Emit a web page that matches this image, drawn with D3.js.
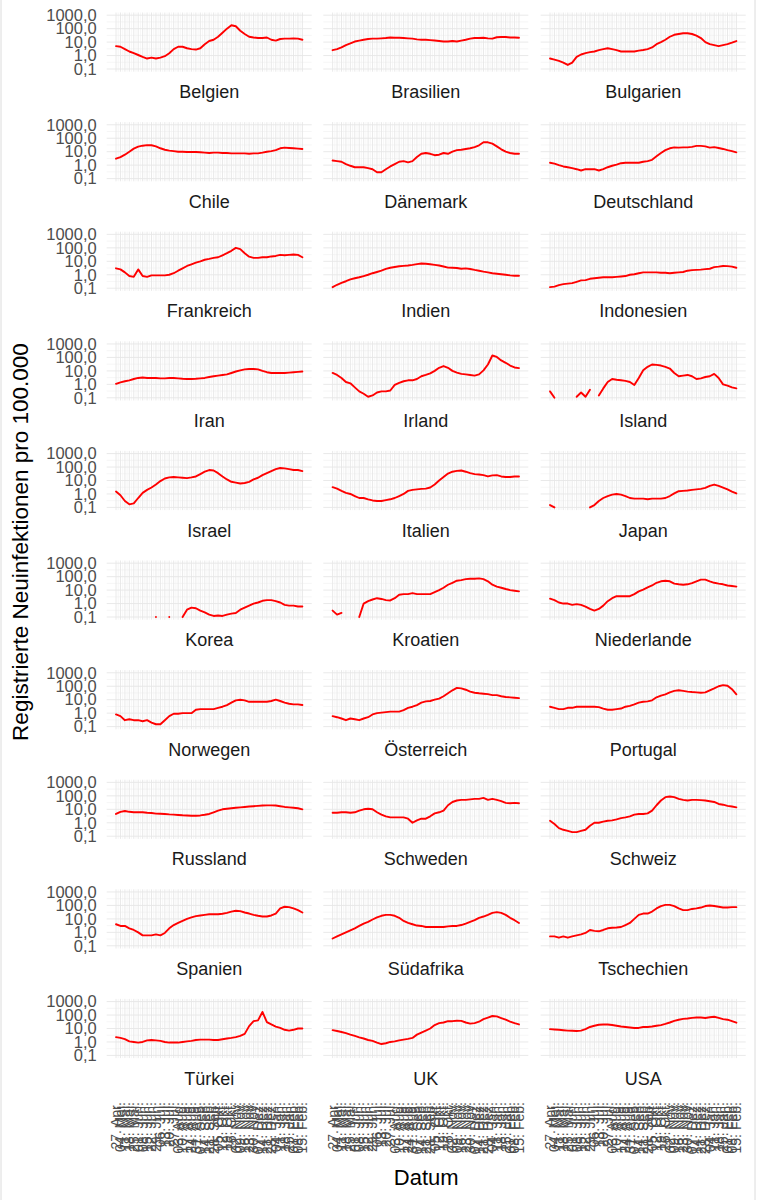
<!DOCTYPE html>
<html>
<head>
<meta charset="utf-8">
<script src="https://cdn.jsdelivr.net/npm/d3@7"></script>
<style>
  body { margin: 0; background: #fff; }
  text { font-family: "Liberation Sans", Arial, sans-serif; }
</style>
</head>
<body>
<script>
// weekly dates and their axis labels
const weekDates = ["2020-04-27","2020-05-04","2020-05-11","2020-05-18","2020-05-25","2020-06-01","2020-06-08","2020-06-15","2020-06-22","2020-06-29",
  "2020-07-06","2020-07-13","2020-07-20","2020-07-27","2020-08-03","2020-08-10","2020-08-17","2020-08-24","2020-08-31","2020-09-07",
  "2020-09-14","2020-09-21","2020-09-28","2020-10-05","2020-10-12","2020-10-19","2020-10-26","2020-11-02","2020-11-09","2020-11-16",
  "2020-11-23","2020-11-30","2020-12-07","2020-12-14","2020-12-21","2020-12-28","2021-01-04","2021-01-11","2021-01-18","2021-01-25",
  "2021-02-01","2021-02-08","2021-02-15"];
const tickLabels = ["27. Apr.","04. Mai.","11. Mai.","18. Mai.","25. Mai.","01. Jun.","08. Jun.","15. Jun.","22. Jun.","29. Jun.",
  "06. Jul.","13. Jul.","20. Jul.","27. Jul.","03. Aug.","10. Aug.","17. Aug.","24. Aug.","31. Aug.","07. Sep.",
  "14. Sep.","21. Sep.","28. Sep.","05. Okt.","12. Okt.","19. Okt.","26. Okt.","02. Nov.","09. Nov.","16. Nov.",
  "23. Nov.","30. Nov.","07. Dez.","14. Dez.","21. Dez.","28. Dez.","04. Jan.","11. Jan.","18. Jan.","25. Jan.",
  "01. Feb.","08. Feb.","15. Feb."];

const yTicks = [0.1, 1, 10, 100, 1000];
const yTickLabels = ["0,1", "1,0", "10,0", "100,0", "1000,0"];

const countries = ["Belgien","Brasilien","Bulgarien","Chile","Dänemark","Deutschland","Frankreich","Indien","Indonesien",
  "Iran","Irland","Island","Israel","Italien","Japan","Korea","Kroatien","Niederlande","Norwegen","Österreich","Portugal",
  "Russland","Schweden","Schweiz","Spanien","Südafrika","Tschechien","Türkei","UK","USA"];

// new infections per 100.000, one value per week (null = below 0,1)
const belgien = [5,4.5,3,2,1.5,1.1,0.8,0.6,0.7,0.6, 0.7,0.9,1.5,3,4.5,4.5,3.5,3,2.8,3.5, 7,12,15,25,50,100,180,150,70,40, 25,22,20,20,22,15,13,17,18,18, 19,18,15];
const brasilien = [2.5,3,4,6,8,11,13,15,17,18, 18,19,20,22,21,21,20,19,18,16, 15,15,14,13,12,11,11,12,11,13, 15,18,20,20,21,19,18,23,24,24, 22,22,21];
const bulgarien = [0.6,0.5,0.4,0.3,0.2,0.3,0.8,1.2,1.5,1.8, 2,2.5,3,3.5,3,2.5,2,2,2,2, 2.3,2.6,3,4,7,10,15,25,35,40, 45,45,40,30,20,10,7,6,5,6, 7,9,12];
const chile = [3,4,6,10,17,24,28,31,30,25, 18,14,12,11,10,10,9.5,9.5,9.5,9, 8.5,8,8.5,8.5,8,8,7.5,7.5,7.5,7.5, 7,7.5,7.5,8.5,10,11,13,18,20,19, 18,17,16];
const daenemark = [2.2,2,1.8,1.2,0.9,0.7,0.7,0.7,0.6,0.5, 0.3,0.3,0.5,0.8,1.2,1.8,2,1.6,2,4, 7,8,7,5.5,6,8,7,10,13,14, 16,18,22,30,50,50,40,25,15,10, 8,7,7];
const deutschland = [1.5,1.3,1,0.8,0.7,0.6,0.5,0.4,0.5,0.5, 0.5,0.4,0.5,0.7,0.9,1.1,1.4,1.5,1.5,1.5, 1.5,1.8,2,2.5,4.5,8,13,18,21,20, 21,21,23,27,27,25,20,22,19,16, 13,11,9];
const frankreich = [3,2.5,1.5,0.8,0.7,2.5,0.8,0.7,0.9,0.9, 0.9,0.9,1,1.3,2,3,4.5,6,8,10, 13,15,18,20,28,40,60,100,80,40, 22,18,18,20,20,23,25,30,28,30, 32,30,20];
const indien = [0.12,0.18,0.25,0.33,0.45,0.55,0.65,0.8,1,1.3, 1.6,2,2.7,3.3,3.8,4.3,4.6,4.9,5.4,6.2, 6.8,6.6,6,5.4,4.9,4.1,3.4,3.3,3.2,2.8, 3,2.7,2.3,2,1.7,1.5,1.3,1.2,1.1,1, 0.9,0.85,0.85];
const indonesien = [0.12,0.13,0.17,0.2,0.22,0.24,0.3,0.38,0.4,0.5, 0.55,0.6,0.65,0.65,0.65,0.7,0.75,0.8,1,1.1, 1.3,1.5,1.5,1.5,1.5,1.4,1.4,1.3,1.4,1.5, 1.6,2,2.2,2.3,2.4,2.6,2.8,3.7,4,4.5, 4.4,4,3.3];
const iran = [1.1,1.4,1.7,2,2.5,3,3.2,3,3,3, 2.8,2.8,3,3,2.8,2.6,2.5,2.5,2.6,2.8, 3,3.5,4,4.5,5,5.5,7,9,11,13, 14,14,13,10,8,7,7,7,7,7.5, 8,8.5,9];
const irland = [7,5,3,1.5,1.2,0.6,0.3,0.2,0.12,0.15, 0.25,0.3,0.3,0.35,0.9,1.3,1.7,2,2,2.5, 4,5,6.5,10,17,23,17,10,7.5,6, 5.5,5,4.5,5.5,11,30,140,110,60,40, 25,18,16];
const island = [0.3,0.1,null,null,null,null,0.12,0.25,0.12,0.4, null,0.15,0.5,1.5,2.5,2.2,2,1.8,1.5,0.9, 3,11,20,30,28,25,20,15,7,4, 4.5,5,4,2.5,2.8,3.5,4,6,3,1, 0.8,0.6,0.5];
const israel = [1.5,0.8,0.3,0.17,0.2,0.5,1.2,2,3,5, 9,14,17,18,17,16,15,17,20,30, 45,60,55,35,20,12,8,7,6,6.5, 8,12,16,25,35,50,70,85,80,70, 60,60,50];
const italien = [3.2,2.5,1.7,1.2,1,0.7,0.5,0.5,0.4,0.33, 0.3,0.3,0.35,0.4,0.5,0.7,1,1.7,2,2.2, 2.4,2.5,3,5,10,18,33,45,52,55, 45,35,30,28,25,20,24,25,20,18, 18,20,20];
const japan = [0.15,0.1,null,null,null,null,null,null,null,0.1, 0.15,0.3,0.5,0.7,0.9,1,0.9,0.7,0.5,0.45, 0.45,0.45,0.4,0.45,0.45,0.45,0.5,0.7,1.1,1.6, 1.7,1.8,2,2.2,2.4,2.8,4,5,4,3, 2.2,1.5,1.1];
const korea = [null,null,null,null,null,null,null,null,null,0.1, null,null,0.1,null,null,0.1,0.35,0.5,0.45,0.3, 0.22,0.15,0.12,0.13,0.12,0.15,0.18,0.2,0.35,0.5, 0.7,1,1.2,1.6,1.8,1.8,1.5,1.2,0.8,0.7, 0.7,0.6,0.6];
const kroatien = [0.3,0.15,0.2,null,null,null,0.1,1,1.5,2, 2.5,2.2,1.8,1.7,2.5,4.5,5,5,6,5, 5,5,5,7,10,15,25,35,50,55, 65,70,70,75,65,45,25,18,15,12, 10,9,8];
const niederlande = [2.3,1.8,1.2,1,1,0.8,0.9,0.8,0.6,0.4, 0.3,0.4,0.7,1.5,2.5,3.5,3.5,3.5,3.5,5, 8,11,16,22,35,45,50,45,30,27, 25,27,33,45,60,60,45,35,30,27, 22,20,18];
const norwegen = [0.8,0.6,0.3,0.35,0.3,0.3,0.25,0.3,0.2,0.15, 0.15,0.3,0.6,0.9,0.9,1,1,1,1.8,2, 2,2,2,2.5,3,4,6,9,10,9, 7,7,7,7,7,8,10,8,6,5, 4.5,4.5,4];
const oesterreich = [0.6,0.5,0.4,0.3,0.4,0.35,0.3,0.4,0.5,0.8, 1,1.1,1.2,1.3,1.3,1.3,1.7,2.5,3,4, 6,7.5,8,10,12,18,30,50,75,70, 55,40,33,30,28,26,22,22,18,16, 15,14,13];
const portugal = [3,2.5,2,2,2.5,2.5,3,3,3,3, 3,2.8,2.2,1.8,1.8,2,2.2,3,3.5,4.5, 6,7,7.5,9,15,20,25,35,45,50, 45,40,37,35,33,35,50,70,100,120, 110,60,25];
const russland = [4.5,6.5,7.5,6.5,6,6,6,5.5,5.3,4.8, 4.7,4.5,4.2,4,3.8,3.6,3.5,3.3,3.3,3.5, 3.9,4.5,6,8,10,11,12,13,14,15, 16,17,18,19,19.5,19.5,19,17,15,14, 13,12,10];
const schweden = [5.5,5.5,6,6,5.5,6,8,10,11,10, 6,4,3,2.5,2.5,2.5,2.5,2,1,1.5, 2,2,3,5,6,8,20,35,45,50, 50,55,60,60,70,50,60,50,40,30, 28,30,28];
const schweiz = [1.4,0.8,0.4,0.3,0.25,0.2,0.2,0.25,0.3,0.6, 1,1,1.2,1.4,1.5,1.8,2.2,2.5,3,4, 4.5,4.5,5,8,20,45,80,90,80,60, 50,45,50,50,48,45,40,35,25,22, 18,16,14];
const spanien = [4,3,3,2,1.5,1,0.6,0.6,0.6,0.7, 0.6,0.9,2,3.5,5,7,10,13,16,18, 20,22,22,22,24,28,35,40,38,30, 25,20,17,15,15,18,25,60,80,75, 60,45,30];
const suedafrika = [0.35,0.5,0.7,1,1.4,2,3,4.5,6,9, 13,17,20,20,17,12,7,5,4,3.2, 3,2.5,2.5,2.5,2.5,2.5,2.8,3,3,3.5, 4.5,6,8,12,15,20,28,32,28,20, 12,8,5];
const tschechien = [0.5,0.5,0.4,0.5,0.4,0.5,0.6,0.7,0.9,1.5, 1.3,1.2,1.5,2,2.2,2.3,2.5,3.5,5,10, 20,25,25,35,60,90,110,110,90,60, 45,45,55,60,70,90,100,90,80,70, 70,75,75];
const tuerkei = [2.3,2,1.6,1.1,1,0.9,1,1.3,1.4,1.3, 1.2,1,0.9,0.9,0.9,1,1.1,1.2,1.4,1.5, 1.5,1.5,1.4,1.4,1.6,1.8,2,2.3,2.8,4, 15,35,40,170,30,20,14,11,8,7, 8,10,10];
const uk = [7.5,6.5,5.5,4.5,3.5,2.8,2.2,1.8,1.4,1.2, 0.9,0.7,0.8,1,1.1,1.3,1.5,1.7,2,3.5, 5,7,10,18,25,28,35,35,38,37, 28,23,25,32,50,65,85,80,60,45, 33,25,20];
const usa = [9,8.5,8,7.5,7,6.8,6.5,7,9,13, 16,19,20,20,18,16,14,13,12,11, 11,13,13,14,16,18,22,28,37,45, 52,55,62,65,65,60,68,75,62,50, 45,35,27];

const series = [belgien, brasilien, bulgarien, chile, daenemark, deutschland, frankreich, indien, indonesien,
  iran, irland, island, israel, italien, japan, korea, kroatien, niederlande, norwegen, oesterreich, portugal,
  russland, schweden, schweiz, spanien, suedafrika, tschechien, tuerkei, uk, usa];

// layout
const width = 758, height = 1200;
const nCols = 3;
const colLeft = [106.7, 323.3, 540.7];
const panelW = 205, panelH = 59.2;
const rowTop0 = 12.5, rowStep = 109.6;
const nRows = Math.ceil(countries.length / nCols);

const parse = d3.timeParse("%Y-%m-%d");
const dates = weekDates.map(parse);
const d0 = dates[0], d1 = dates[dates.length - 1];
const pad = (d1 - d0) * 0.05;

const x = d3.scaleTime()
  .domain([new Date(+d0 - pad), new Date(+d1 + pad)])
  .range([0, panelW]);
const y = d3.scaleLog()
  .domain([Math.pow(10, -1.2), Math.pow(10, 3.2)])
  .range([panelH, 0]);

// minor breaks halfway between the majors
const xMinor = dates.slice(1).map((d, i) => new Date((+d + +dates[i]) / 2));
const yMinor = yTicks.slice(1).map((v, i) => Math.sqrt(v * yTicks[i]));

const svg = d3.select('body').append('svg')
  .attr('width', width)
  .attr('height', height);

// thin frame at the image edges
svg.append('line').attr('x1', 1).attr('x2', 1).attr('y1', 0).attr('y2', height).attr('stroke', '#dcdcdc');
svg.append('line').attr('x1', 755).attr('x2', 755).attr('y1', 0).attr('y2', height).attr('stroke', '#dcdcdc');

const line = d3.line()
  .defined(d => d.v != null)
  .x(d => x(d.date))
  .y(d => y(d.v));

countries.forEach((name, k) => {
  const col = k % nCols, row = Math.floor(k / nCols);
  const g = svg.append('g')
    .attr('transform', `translate(${colLeft[col]},${rowTop0 + row * rowStep})`);

  // grid
  g.selectAll('.vminor').data(xMinor).enter().append('line')
    .attr('x1', d => x(d)).attr('x2', d => x(d)).attr('y1', 0).attr('y2', panelH)
    .attr('stroke', '#f0f0f0').attr('stroke-width', 0.6);
  g.selectAll('.hminor').data(yMinor).enter().append('line')
    .attr('x1', 0).attr('x2', panelW).attr('y1', d => y(d)).attr('y2', d => y(d))
    .attr('stroke', '#f0f0f0').attr('stroke-width', 0.6);
  g.selectAll('.vmajor').data(dates).enter().append('line')
    .attr('x1', d => x(d)).attr('x2', d => x(d)).attr('y1', 0).attr('y2', panelH)
    .attr('stroke', '#e6e6e6').attr('stroke-width', 0.9);
  g.selectAll('.hmajor').data(yTicks).enter().append('line')
    .attr('x1', 0).attr('x2', panelW).attr('y1', d => y(d)).attr('y2', d => y(d))
    .attr('stroke', '#e6e6e6').attr('stroke-width', 0.9);

  // series
  const pts = dates.map((d, i) => ({ date: d, v: series[k][i] }));
  g.append('path')
    .datum(pts)
    .attr('d', line)
    .attr('fill', 'none')
    .attr('stroke', '#ff0000')
    .attr('stroke-width', 1.9)
    .attr('stroke-linejoin', 'round')
    .attr('stroke-linecap', 'round');

  // strip label below the panel
  g.append('text')
    .attr('x', panelW / 2)
    .attr('y', panelH + 26.5)
    .attr('text-anchor', 'middle')
    .attr('font-size', 18)
    .attr('fill', '#1a1a1a')
    .text(name);

  // y axis labels on the first column
  if (col === 0) {
    g.selectAll('.ylab').data(yTicks).enter().append('text')
      .attr('x', -10)
      .attr('y', d => y(d))
      .attr('dy', '0.35em')
      .attr('text-anchor', 'end')
      .attr('font-size', 16.5)
      .attr('fill', '#4d4d4d')
      .text((d, i) => yTickLabels[i]);
  }

  // x axis labels on the bottom row
  if (row === nRows - 1) {
    g.selectAll('.xlab').data(dates).enter().append('text')
      .attr('transform', d => `translate(${x(d)},${panelH + 44}) rotate(-90)`)
      .attr('dy', '0.35em')
      .attr('text-anchor', 'end')
      .attr('font-size', 14)
      .attr('fill', '#4d4d4d')
      .text((d, i) => tickLabels[i]);
  }
});

// axis titles
svg.append('text')
  .attr('transform', 'translate(28,542) rotate(-90)')
  .attr('text-anchor', 'middle')
  .attr('font-size', 22.5)
  .attr('fill', '#000')
  .text('Registrierte Neuinfektionen pro 100.000');

svg.append('text')
  .attr('x', (colLeft[0] + colLeft[2] + panelW) / 2)
  .attr('y', 1185)
  .attr('text-anchor', 'middle')
  .attr('font-size', 22)
  .attr('fill', '#000')
  .text('Datum');
</script>
</body>
</html>
